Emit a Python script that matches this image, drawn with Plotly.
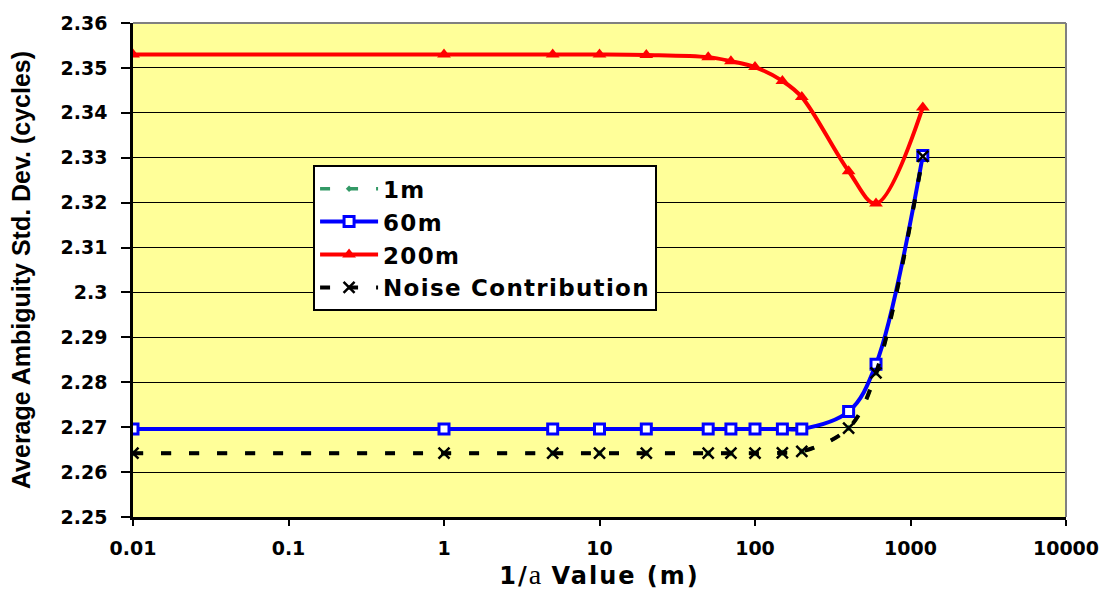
import plotly.graph_objects as go

# 1/alpha values (m)
inv_alpha = [0.01, 1, 5, 10, 20, 50, 70, 100, 150, 200, 400, 600, 1200]

# Average ambiguity standard deviation (cycles)
sd_1m = [2.2642, 2.2642, 2.2642, 2.2642, 2.2642, 2.2642, 2.2642, 2.2642, 2.2643, 2.2646, 2.2698, 2.2821, 2.3303]
sd_60m = [2.2696, 2.2696, 2.2696, 2.2696, 2.2696, 2.2696, 2.2696, 2.2696, 2.2696, 2.2696, 2.2735, 2.2840, 2.3305]
sd_200m = [2.3530, 2.3530, 2.3530, 2.3530, 2.3529, 2.3524, 2.3515, 2.3502, 2.3471, 2.3435, 2.3270, 2.3198, 2.3412]
sd_noise = [2.2642, 2.2642, 2.2642, 2.2642, 2.2642, 2.2642, 2.2642, 2.2642, 2.2643, 2.2646, 2.2698, 2.2821, 2.3303]

series_names = ["1m", "60m", "200m", "Noise Contribution"]

x_ticks = [0.01, 0.1, 1, 10, 100, 1000, 10000]
x_tick_labels = ["0.01", "0.1", "1", "10", "100", "1000", "10000"]
y_ticks = [2.25, 2.26, 2.27, 2.28, 2.29, 2.30, 2.31, 2.32, 2.33, 2.34, 2.35, 2.36]
y_tick_labels = ["2.25", "2.26", "2.27", "2.28", "2.29", "2.3", "2.31", "2.32", "2.33", "2.34", "2.35", "2.36"]


def spaced(text, px=1.3):
    return f"<span style='letter-spacing:{px}px'>{text}</span>"


fig = go.Figure()

fig.add_trace(go.Scatter(
    x=inv_alpha, y=sd_1m, name=spaced(series_names[0]), mode="lines+markers",
    line=dict(color="#339966", width=3.5, dash="10px,18px", shape="spline", smoothing=1),
    marker=dict(symbol="diamond", size=5, color="#339966"),
))
fig.add_trace(go.Scatter(
    x=inv_alpha, y=sd_60m, name=spaced(series_names[1]), mode="lines+markers",
    line=dict(color="#0000FF", width=4, shape="spline", smoothing=1),
    marker=dict(symbol="square", size=10, color="white", line=dict(color="#0000FF", width=3)),
))
fig.add_trace(go.Scatter(
    x=inv_alpha, y=sd_200m, name=spaced(series_names[2]), mode="lines+markers",
    line=dict(color="#FF0000", width=4, shape="spline", smoothing=1),
    marker=dict(symbol="triangle-up", size=12, color="#FF0000"),
))
fig.add_trace(go.Scatter(
    x=inv_alpha, y=sd_noise, name=spaced(series_names[3]), mode="lines+markers",
    line=dict(color="black", width=4, dash="10px,18px", shape="spline", smoothing=1),
    marker=dict(symbol="x-thin-open", size=11, color="black", line=dict(color="black", width=2.5)),
))

tick_font = dict(family="DejaVu Sans", size=19, color="black", weight="bold")

fig.update_layout(
    width=1111, height=592,
    margin=dict(l=133, r=45, t=19, b=75),
    paper_bgcolor="white",
    plot_bgcolor="#FFFF99",
    showlegend=True,
    legend=dict(
        x=0.193, y=0.712, xanchor="left", yanchor="top",
        bgcolor="white", bordercolor="black", borderwidth=2,
        font=dict(family="DejaVu Sans", size=23, color="black", weight="bold"),
        itemwidth=58, tracegroupgap=0,
    ),
    xaxis=dict(
        type="log", range=[-2, 4],
        tickvals=x_ticks, ticktext=x_tick_labels,
        ticks="outside", ticklen=6, tickwidth=2, tickcolor="black",
        tickfont=tick_font, ticklabelstandoff=6,
        showgrid=False, zeroline=False,
        showline=True, linecolor="black", linewidth=2.5,
        title=dict(
            text="<span style='letter-spacing:2px'>1/</span>"
                 "<span style=\"font-family:'Liberation Serif';font-weight:normal;font-size:28px\">a</span>"
                 "<span style='letter-spacing:2px'> Value (m)</span>",
            font=dict(family="DejaVu Sans", size=24, color="black", weight="bold"),
            standoff=4,
        ),
    ),
    yaxis=dict(
        range=[2.25, 2.36],
        tickvals=y_ticks, ticktext=y_tick_labels,
        ticks="outside", ticklen=9, tickwidth=2, tickcolor="black",
        tickfont=tick_font, ticklabelstandoff=10,
        showgrid=True, gridcolor="black", gridwidth=1.3,
        zeroline=False,
        showline=True, linecolor="black", linewidth=2.5,
        title=dict(
            text="Average Ambiguity Std. Dev. (cycles)",
            font=dict(family="Liberation Sans", size=25, color="black", weight="bold"),
            standoff=23,
        ),
    ),
)

# Grey frame on the top and right edges of the plotting area
fig.add_shape(type="line", xref="paper", yref="paper", x0=0, x1=1, y0=1, y1=1,
              line=dict(color="#808080", width=2), layer="above")
fig.add_shape(type="line", xref="paper", yref="paper", x0=1, x1=1, y0=0, y1=1,
              line=dict(color="#808080", width=2), layer="above")

fig.write_html("out.html")
